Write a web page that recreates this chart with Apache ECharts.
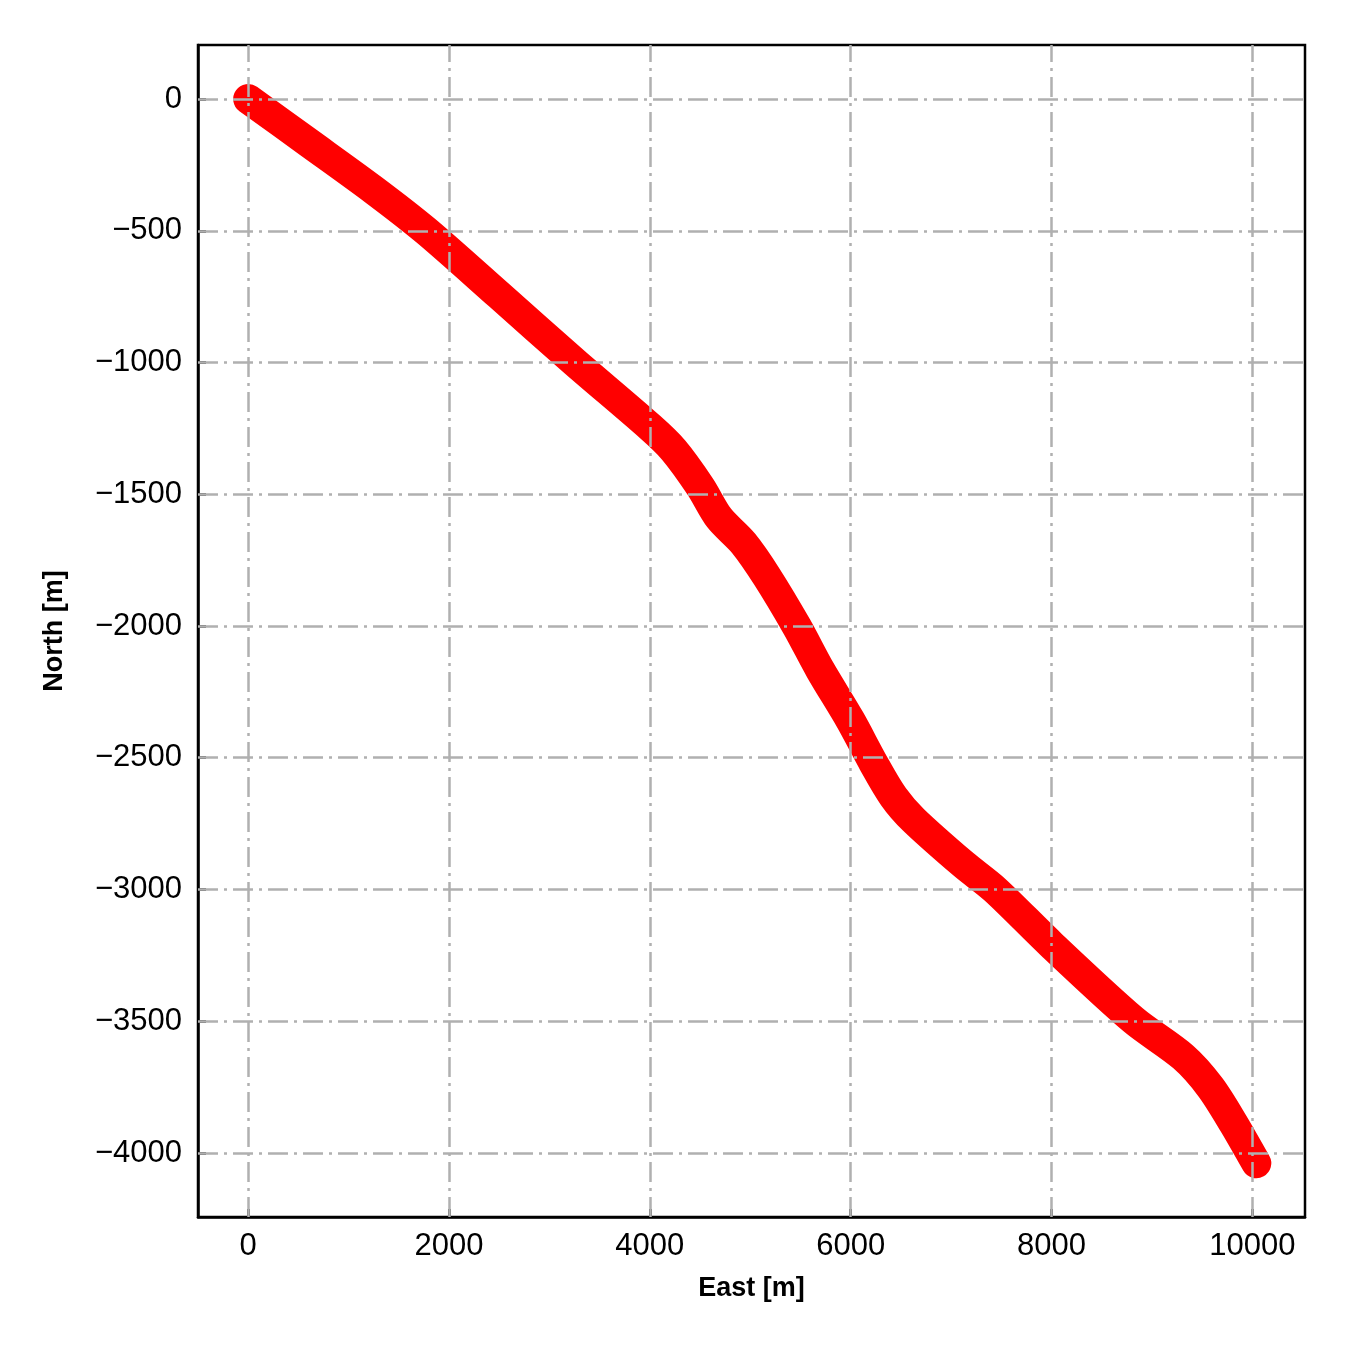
<!DOCTYPE html>
<html>
<head>
<meta charset="utf-8">
<script src="https://cdn.jsdelivr.net/npm/echarts@6/dist/echarts.min.js"></script>
<style>
  html, body { margin: 0; padding: 0; background: #fff; }
  #chart { width: 1350px; height: 1350px; }
</style>
</head>
<body>
<div id="chart"></div>
<script>
// well path
var east  = [0, 600, 1250, 1770, 2500, 3255, 4000, 4236, 4502, 4690, 4933, 5166, 5465, 5697, 5996, 6228, 6427, 6627, 7125, 7435, 8000, 8815, 9313, 9582, 9811, 10040]
var north = [0, -165, -345, -500, -745, -1000, -1244, -1332, -1471, -1590, -1686, -1813, -2003, -2167, -2357, -2521, -2648, -2736, -2905, -3000, -3210, -3495, -3636, -3750, -3887, -4039]

var xTicks = [0, 2000, 4000, 6000, 8000, 10000]
var yTicks = [0, -500, -1000, -1500, -2000, -2500, -3000, -3500, -4000]

var xRange = [-500, 10525]
var yRange = [-4243, 205]

var minus = function (v) {
  return String(v).replace('-', '\u2212')
}

var gridStyle = {
  color: '#b0b0b0',
  width: 2.5,
  type: [20, 6, 3, 6],
}

var chartDom = document.getElementById('chart')
var myChart = echarts.init(chartDom, null, { renderer: 'canvas' })

var option = {
  animation: false,
  backgroundColor: '#fff',
  textStyle: { fontFamily: 'Liberation Sans, Arial, sans-serif' },
  grid: {
    left: 198,
    right: 45,
    top: 45,
    bottom: 133,
    show: true,
    borderColor: '#000',
    borderWidth: 2.5,
    backgroundColor: 'transparent',
  },
  xAxis: {
    type: 'value',
    min: xRange[0],
    max: xRange[1],
    name: 'East [m]',
    nameLocation: 'middle',
    nameGap: 58,
    nameTextStyle: { color: '#000', fontSize: 27, fontWeight: 'bold' },
    axisLine: { show: true, onZero: false, lineStyle: { color: '#000', width: 2.5 } },
    axisTick: { show: true, inside: true, length: 8, customValues: xTicks, lineStyle: { color: '#000', width: 2.5 } },
    axisLabel: { color: '#000', fontSize: 31, margin: 14, customValues: xTicks, formatter: minus },
    splitLine: { show: false },
  },
  yAxis: {
    type: 'value',
    min: yRange[0],
    max: yRange[1],
    name: 'North [m]',
    nameLocation: 'middle',
    nameGap: 130,
    nameRotate: 90,
    nameTextStyle: { color: '#000', fontSize: 27, fontWeight: 'bold' },
    axisLine: { show: true, onZero: false, lineStyle: { color: '#000', width: 2.5 } },
    axisTick: { show: true, inside: true, length: 8, customValues: yTicks, lineStyle: { color: '#000', width: 2.5 } },
    axisLabel: { color: '#000', fontSize: 31, margin: 16, customValues: yTicks, formatter: minus },
    splitLine: { show: false },
  },
  series: [
    {
      // grid lines drawn under the path
      type: 'line',
      data: [],
      z: 1,
      silent: true,
      markLine: {
        silent: true,
        symbol: 'none',
        label: { show: false },
        lineStyle: gridStyle,
        animation: false,
        data: xTicks.map(function (v) { return { xAxis: v } })
          .concat(yTicks.map(function (v) { return { yAxis: v } })),
      },
    },
    {
      name: 'Well',
      type: 'line',
      z: 3,
      data: east.map(function (e, i) { return [e, north[i]] }),
      showSymbol: false,
      smooth: 0.3,
      lineStyle: { color: '#ff0000', width: 30, cap: 'round', join: 'round' },
    },
  ],
}

option && myChart.setOption(option)
</script>
</body>
</html>
